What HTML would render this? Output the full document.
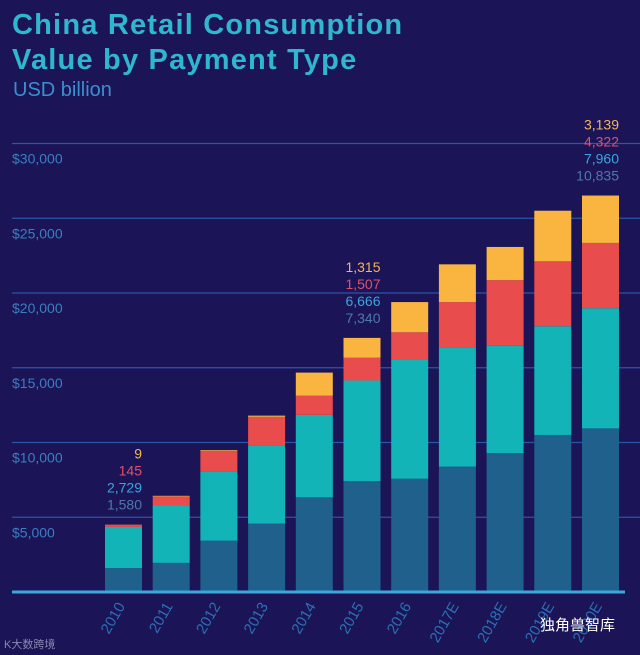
<!DOCTYPE html>
<html><head><meta charset="utf-8"><style>
html,body{margin:0;padding:0;background:#1b1457;}
body{width:640px;height:655px;overflow:hidden;position:relative;font-family:"Liberation Sans","Noto Sans CJK SC",sans-serif;}
.t{position:absolute;left:12px;color:#2fb7cf;font-weight:bold;font-size:29px;letter-spacing:1.2px;}
</style></head><body>
<div class="t" style="top:9px;">China Retail Consumption</div>
<div class="t" style="top:44px;">Value by Payment Type</div>
<div style="position:absolute;left:13px;top:79px;color:#3c8fce;font-size:20px;">USD billion</div>
<svg id="chart" width="640" height="655" style="position:absolute;left:0;top:0;"></svg>
<div style="position:absolute;left:4px;top:636px;color:#8a88b0;font-size:11px;">K大数跨境</div>
<div style="position:absolute;left:540px;top:614px;color:#fff;font-size:15px;">独角兽智库</div>
<script>
const years=["2010","2011","2012","2013","2014","2015","2016","2017E","2018E","2019E","2020E"];
const cash=[1580,1930,3400,4530,6270,7340,7500,8300,9200,10400,10835];
const card=[2729,3800,4600,5140,5460,6666,7900,7900,7100,7200,7960];
const mobile=[145,600,1330,1930,1270,1507,1800,3000,4350,4300,4322];
const other=[9,40,60,80,1530,1315,2000,2500,2200,3350,3139];
const ticks=[5000,10000,15000,20000,25000,30000];
const tickLabels=["$5,000","$10,000","$15,000","$20,000","$25,000","$30,000"];
const labeled=[0,5,10];
const series=[cash,card,mobile,other];
const colors=["#20608c","#13b4b8","#e84c4c","#f9b53f"];
const labelColors=["#4f78ad","#3aa5dc","#e0506a","#f2b45a"];
const NS="http://www.w3.org/2000/svg";
const svg=document.getElementById("chart");
const base=592, ppu=0.0151, gppu=0.01495;
const y=v=>base-v*ppu;
const gy=v=>base-v*gppu;
const x=i=>105+i*47.7;
const bw=37;
function mk(tag,attrs){const e=document.createElementNS(NS,tag);for(const k in attrs)e.setAttribute(k,attrs[k]);svg.appendChild(e);return e;}
ticks.forEach((t,i)=>{
  const l=mk("line",{x1:12,x2:640,y1:gy(t),y2:gy(t),stroke:"#2a55a8","stroke-width":1.2});
  
  
  const tx=mk("text",{x:12,y:gy(t)+20,fill:"#3a7fc0","font-size":14,"font-family":"Liberation Sans, sans-serif"});
  tx.textContent=tickLabels[i];
  
  
});
years.forEach((yr,i)=>{
  let cum=0;
  series.forEach((s,k)=>{
    const r=mk("rect",{x:x(i),y:y(cum+s[i]),width:bw,height:s[i]*ppu,fill:colors[k]});
    
    
    cum+=s[i];
  });
  const lbl=mk("text",{transform:`translate(${x(i)+bw/2+2},${base+14}) rotate(-60)`,fill:"#2c6fb5","font-size":15,"text-anchor":"end","font-family":"Liberation Sans, sans-serif"});
  lbl.textContent=yr;
  
  
  if(labeled.includes(i)){
    const top=y(cum);
    [3,2,1,0].forEach((k,j)=>{
      const v=series[k][i];
      const t=mk("text",{x:x(i)+bw,y:top-66+j*17,fill:labelColors[k],"font-size":14,"text-anchor":"end","font-family":"Liberation Sans, sans-serif"});
      t.textContent=v.toLocaleString("en-US");
      
      
    });
  }
});
const b=mk("line",{x1:12,x2:625,y1:base,y2:base,stroke:"#3aa8dc","stroke-width":3});


</script>
</body></html>
